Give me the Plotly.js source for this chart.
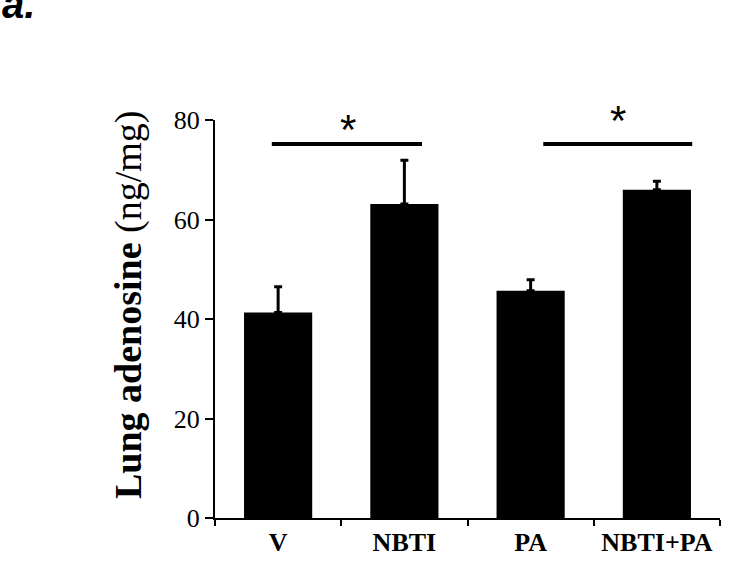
<!DOCTYPE html>
<html>
<head>
<meta charset="utf-8">
<script src="https://cdn.plot.ly/plotly-3.0.1.min.js"></script>
<style>html,body{margin:0;padding:0;background:#fff;}#chart{width:747px;height:563px;}</style>
</head>
<body>
<div id="chart"></div>
<script>
const categories = ["V", "NBTI", "PA", "NBTI+PA"];
const values = [41.3, 63.1, 45.7, 66.0];
const errors = [5.2, 8.8, 2.2, 1.7];
const sigStart = [-0.05, 2.1];
const sigEnd = [1.14, 3.28];
const sigY = [75.2, 75.2];
const starX = [0.55, 2.69];
const starY = [0.977, 0.9975];

const trace = {
  type: "bar",
  x: categories,
  y: values,
  marker: {color: "#000000", line: {width: 0}},
  error_y: {type: "data", array: errors, arrayminus: errors.map(() => 0), symmetric: false,
            color: "#000000", thickness: 3, width: 4},
  hoverinfo: "none"
};

const shapes = sigStart.map((s, i) => ({
  type: "line", xref: "x", yref: "y", x0: s, x1: sigEnd[i], y0: sigY[i], y1: sigY[i],
  line: {color: "#000000", width: 4}
}));

const annotations = starX.map((sx, i) => ({
  xref: "x", yref: "paper", x: sx, y: starY[i], text: "*", showarrow: false,
  font: {family: "Liberation Sans", size: 42, color: "#000"}, yanchor: "middle"
}));
annotations.push({
  xref: "paper", yref: "paper", xanchor: "left", yanchor: "bottom",
  x: -215/505, y: 1 + 92/398,
  text: "<b><i>a.</i></b>", showarrow: false,
  font: {family: "Liberation Sans", size: 40, color: "#000"}
});
annotations.push({
  xref: "paper", yref: "paper", xanchor: "center", yanchor: "middle",
  x: (128 - 215) / 505, y: (518 - 305) / 398, textangle: -90,
  text: "<b>Lung adenosine</b> (ng/mg)", showarrow: false,
  font: {family: "Liberation Serif", size: 38, color: "#000"}
});

const layout = {
  width: 747, height: 563,
  margin: {l: 215, r: 27, t: 120, b: 45, pad: 0},
  paper_bgcolor: "#fff", plot_bgcolor: "#fff",
  showlegend: false,
  bargap: 0.46,
  xaxis: {
    type: "category", range: [-0.5, 3.5],
    showline: true, linecolor: "#000", linewidth: 2,
    ticks: "outside", tickson: "boundaries", ticklen: 6, tickwidth: 2, tickcolor: "#000",
    showgrid: false, zeroline: false,
    ticktext: categories.map(c => "<b>" + c + "</b>"), tickvals: categories, tickmode: "array",
    tickfont: {family: "Liberation Serif", size: 26, color: "#000"}
  },
  yaxis: {
    range: [0, 80], tickvals: [0, 20, 40, 60, 80],
    showline: true, linecolor: "#000", linewidth: 2,
    ticks: "outside", ticklen: 8, tickwidth: 2, tickcolor: "#000",
    showgrid: false, zeroline: false,
    tickfont: {family: "Liberation Serif", size: 26, color: "#000"}
  },
  shapes: shapes,
  annotations: annotations
};

Plotly.newPlot("chart", [trace], layout, {displayModeBar: false, staticPlot: true});
</script>
</body>
</html>
